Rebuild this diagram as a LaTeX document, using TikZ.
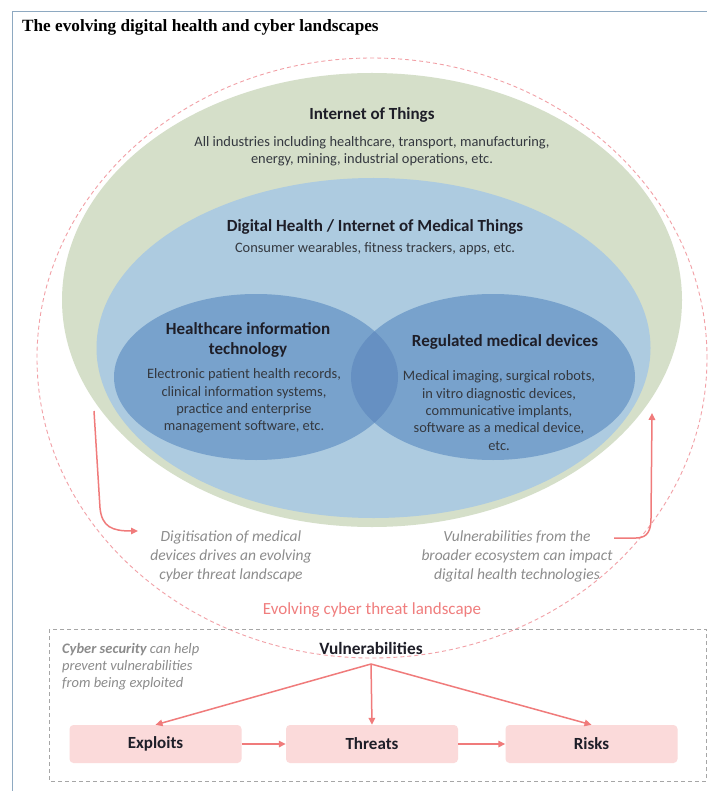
\documentclass[tikz,border=0pt]{standalone}
\usepackage{fontspec}
\setmainfont{Carlito}
\newfontfamily\titlefont{Liberation Serif}
\usetikzlibrary{arrows.meta}

\definecolor{frameblue}{HTML}{8EA9C1}
\definecolor{sage}{HTML}{D5DFC9}
\definecolor{lightblue}{HTML}{ADCBE0}
\definecolor{midblue}{HTML}{78A2CC}
\definecolor{lensblue}{HTML}{6690C2}
\definecolor{salmon}{HTML}{F07B7B}
\definecolor{pinkdash}{HTML}{F2A0A6}
\definecolor{pinkbox}{HTML}{FBDADA}
\definecolor{greytext}{HTML}{8C8C8C}
\definecolor{dashgrey}{HTML}{A6A6A6}
\definecolor{headtext}{HTML}{1E1E28}
\definecolor{bodytext}{HTML}{34383F}
\definecolor{evolvepink}{HTML}{F07E7E}

\begin{document}
\begin{tikzpicture}[x=1pt,y=-1pt,
  head/.style={font=\bfseries\fontsize{17}{20.5}\selectfont, text=headtext, align=center, inner sep=0},
  body/.style={font=\fontsize{14.4}{17.3}\selectfont, text=bodytext, align=center, inner sep=0},
  note/.style={font=\itshape\fontsize{15.5}{19}\selectfont, text=greytext, align=center, inner sep=0},
  stagebox/.style={fill=pinkbox, rounded corners=4pt, minimum width=172pt, minimum height=38pt, font=\bfseries\fontsize{17}{20}\selectfont, text=headtext, inner sep=0},
  arr/.style={draw=salmon, line width=1.5pt, -{Triangle[length=7pt,width=6.5pt]}},
]
\useasboundingbox (0,0) rectangle (707,791);
\fill[white] (0,0) rectangle (707,791);
\draw[frameblue, line width=1.2pt] (12.5,791) -- (12.5,11.5) -- (707,11.5);

\node[anchor=west, inner sep=0, text=black, font=\titlefont\bfseries\fontsize{17.2}{20}\selectfont] (title) at (22,27.5) {The evolving digital health and cyber landscapes};

% landscape ellipses
\draw[pinkdash, line width=0.9pt, dash pattern=on 4pt off 3pt] (372,358) ellipse [x radius=335pt, y radius=300pt];
\fill[sage] (372,300) ellipse [x radius=310pt, y radius=227pt];
\fill[lightblue] (373.5,348) ellipse [x radius=277pt, y radius=170pt];
\fill[midblue] (256,377) ellipse [x radius=142pt, y radius=83pt];
\fill[midblue] (493,377) ellipse [x radius=142pt, y radius=83pt];
\begin{scope}
  \clip (256,377) ellipse [x radius=142pt, y radius=83pt];
  \fill[lensblue] (493,377) ellipse [x radius=142pt, y radius=83pt];
\end{scope}

% texts in ellipses
\node[head] (iot) at (372,115) {Internet of Things};
\node[body, font=\fontsize{14.4}{16.5}\selectfont] (iotb) at (372,151) {All industries including healthcare, transport, manufacturing,\\energy, mining, industrial operations, etc.};
\node[head] (dh) at (375,227) {Digital Health / Internet of Medical Things};
\node[body] (dhb) at (375,249) {Consumer wearables, fitness trackers, apps, etc.};
\node[head] (hit) at (248,340) {Healthcare information\\technology};
\node[body] (hitb) at (244,401) {Electronic patient health records,\\clinical information systems,\\practice and enterprise\\management software, etc.};
\node[head] (rmd) at (505,342) {Regulated medical devices};
\node[body] (rmdb) at (499,410.5) {Medical imaging, surgical robots,\\in vitro diagnostic devices,\\communicative implants,\\software as a medical device,\\etc.};

% side notes and curved arrows
\node[note] (ln) at (231,556) {Digitisation of medical\\devices drives an evolving\\cyber threat landscape};
\node[note] (rn) at (517,556) {Vulnerabilities from the\\broader ecosystem can impact\\digital health technologies};
\coordinate (la1) at (94,411);
\coordinate (la2) at (100,508);
\coordinate (la3) at (138,531);
\draw[arr] (la1) -- (la2) .. controls (102,527) and (112,531) .. (la3);
\coordinate (ra1) at (614,538);
\coordinate (ra2) at (636,538);
\coordinate (ra3) at (651,518);
\coordinate (ra4) at (652,413);
\draw[arr] (ra1) -- (ra2) .. controls (648,538) and (651,530) .. (ra3) -- (ra4);

\node[inner sep=0, text=evolvepink, font=\fontsize{17}{20}\selectfont] (evo) at (372,610) {Evolving cyber threat landscape};

% bottom panel
\draw[dashgrey, line width=0.9pt, dash pattern=on 4pt off 3pt] (49,629) rectangle (706,781);
\node[anchor=west, align=left, inner sep=0, text=greytext, font=\itshape\fontsize{14.5}{17}\selectfont] (cyber) at (62,667) {\textbf{Cyber security} can help\\prevent vulnerabilities\\from being exploited};
\node[inner sep=0, text=headtext, font=\bfseries\fontsize{17.3}{20}\selectfont] (vul) at (371,648) {Vulnerabilities};
\coordinate (vs) at (371,664);
\node[stagebox] (exploits) at (155.5,744) {Exploits};
\node[stagebox] (threats) at (372,744) {Threats};
\node[stagebox] (risks) at (591.5,744) {Risks};
\draw[arr] (vs) -- (exploits.north);
\draw[arr] (vs) -- (threats.north);
\draw[arr] (vs) -- (risks.north);
\draw[arr] (exploits.east) -- (threats.west);
\draw[arr] (threats.east) -- (risks.west);
\end{tikzpicture}
\end{document}
